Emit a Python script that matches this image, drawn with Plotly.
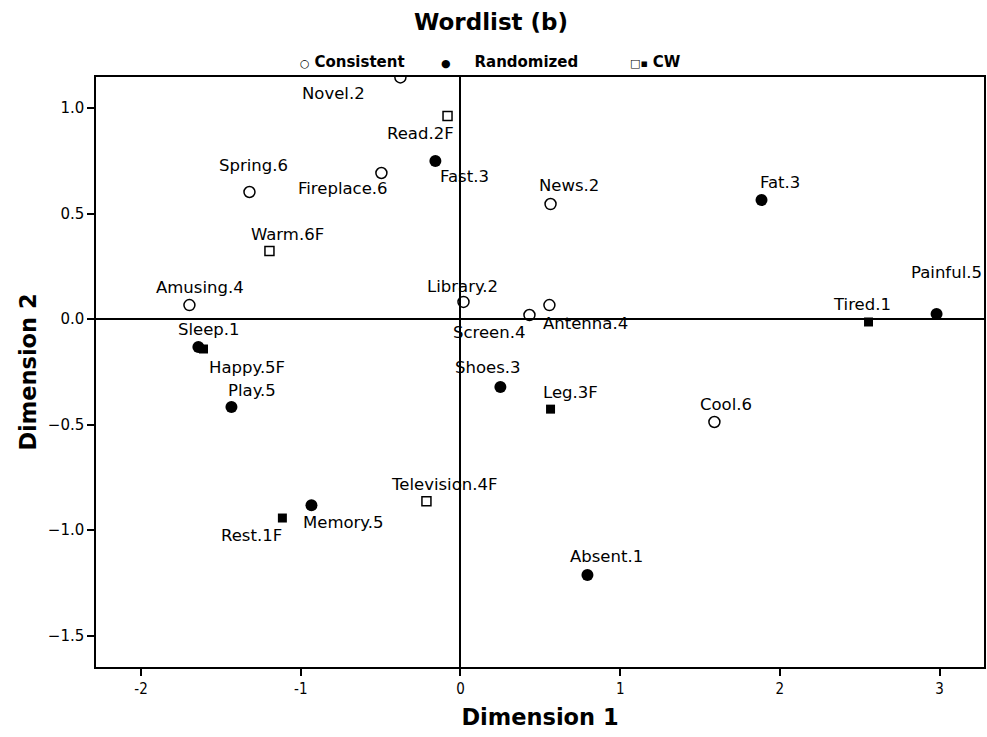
import plotly.graph_objects as go

# ---- data ----
cons_labels = ["Novel.2", "Spring.6", "Fireplace.6", "News.2", "Amusing.4",
               "Library.2", "Screen.4", "Antenna.4", "Cool.6"]
cons_x = [-0.376, -1.321, -0.495, 0.564, -1.697, 0.019, 0.432, 0.557, 1.590]
cons_y = [1.145, 0.602, 0.692, 0.545, 0.066, 0.081, 0.019, 0.066, -0.488]

rand_labels = ["Fast.3", "Fat.3", "Painful.5", "Sleep.1", "Play.5",
               "Shoes.3", "Memory.5", "Absent.1"]
rand_x = [-0.157, 1.885, 2.981, -1.641, -1.434, 0.250, -0.933, 0.795]
rand_y = [0.749, 0.564, 0.024, -0.133, -0.417, -0.322, -0.882, -1.213]

cw_open_labels = ["Read.2F", "Warm.6F", "Television.4F"]
cw_open_x = [-0.081, -1.196, -0.213]
cw_open_y = [0.962, 0.322, -0.863]

cw_fill_labels = ["Happy.5F", "Leg.3F", "Rest.1F", "Tired.1"]
cw_fill_x = [-1.609, 0.564, -1.115, 2.555]
cw_fill_y = [-0.142, -0.427, -0.943, -0.014]

legend_names = ["Consistent", "Randomized", "CW"]

# label offsets in pixels (style only)
label_shift = {
    "Novel.2": (-67, -16), "Spring.6": (4, 27), "Fireplace.6": (-38, -15),
    "News.2": (18, 19), "Amusing.4": (11, 18), "Library.2": (-1, 15),
    "Screen.4": (-40, -17), "Antenna.4": (36, -18), "Cool.6": (12, 18),
    "Fast.3": (29, -16), "Fat.3": (18, 18), "Painful.5": (10, 41),
    "Sleep.1": (11, 18), "Play.5": (21, 17), "Shoes.3": (-12, 19),
    "Memory.5": (32, -17), "Absent.1": (19, 19),
    "Read.2F": (-27, -17), "Warm.6F": (18, 17), "Television.4F": (18, 17),
    "Happy.5F": (44, -18), "Leg.3F": (20, 17), "Rest.1F": (-31, -17),
    "Tired.1": (-7, 17),
}

FONT = "DejaVu Sans"

fig = go.Figure()
fig.add_trace(go.Scatter(x=cons_x, y=cons_y, mode="markers", name=legend_names[0],
                         marker=dict(symbol="circle-open", size=11, color="black",
                                     line=dict(width=1.5, color="black"))))
fig.add_trace(go.Scatter(x=rand_x, y=rand_y, mode="markers", name=legend_names[1],
                         marker=dict(symbol="circle", size=12, color="black")))
fig.add_trace(go.Scatter(x=cw_open_x, y=cw_open_y, mode="markers", name=legend_names[2],
                         marker=dict(symbol="square-open", size=9, color="black",
                                     line=dict(width=1.5, color="black"))))
fig.add_trace(go.Scatter(x=cw_fill_x, y=cw_fill_y, mode="markers", name=legend_names[2],
                         marker=dict(symbol="square", size=9, color="black")))

annotations = []
for labs, xs, ys in [(cons_labels, cons_x, cons_y), (rand_labels, rand_x, rand_y),
                     (cw_open_labels, cw_open_x, cw_open_y),
                     (cw_fill_labels, cw_fill_x, cw_fill_y)]:
    for l, x, y in zip(labs, xs, ys):
        dx, dy = label_shift[l]
        annotations.append(dict(x=x, y=y, text=l, showarrow=False,
                                xshift=dx, yshift=dy,
                                font=dict(family=FONT, size=16.5, color="black")))

# legend as text
sym = '<span style="font-size:11px">%s</span>'
legend_items = [(sym % "○" + " <b>" + legend_names[0] + "</b>", 0.2275),
                (sym % "●" + "     <b>" + legend_names[1] + "</b>", 0.386),
                (sym % "□▪" + " <b>" + legend_names[2] + "</b>", 0.599)]
for txt, xp in legend_items:
    annotations.append(dict(xref="paper", yref="paper", x=xp, y=1.025,
                            xanchor="left", yanchor="middle", text=txt,
                            showarrow=False,
                            font=dict(family=FONT, size=15, color="black")))

fig.update_layout(
    width=987, height=737,
    margin=dict(l=96, r=3, t=77, b=70),
    plot_bgcolor="white", paper_bgcolor="white",
    showlegend=False,
    title=dict(text="<b>Wordlist (b)</b>", x=0.4975, xanchor="center",
               y=0.970, yanchor="middle",
               font=dict(family=FONT, size=23, color="black")),
    annotations=annotations,
    font=dict(family=FONT, color="black"),
)
fig.update_xaxes(range=[-2.282, 3.278], tickvals=[-2, -1, 0, 1, 2, 3],
                 ticktext=["-2", "-1", "0", "1", "2", "3"], automargin=False,
                 showgrid=False, zeroline=True, zerolinecolor="black", zerolinewidth=2,
                 showline=True, linecolor="black", linewidth=1.5, mirror=True,
                 ticks="outside", ticklen=7, tickwidth=1.5, tickcolor="black",
                 tickfont=dict(family="DejaVu Sans Condensed", size=15),
                 title=dict(text="<b>Dimension 1</b>", standoff=12,
                            font=dict(family=FONT, size=22.5)))
fig.update_yaxes(range=[-1.649, 1.147], tickvals=[-1.5, -1.0, -0.5, 0.0, 0.5, 1.0],
                 tickformat=".1f", automargin=False,
                 showgrid=False, zeroline=True, zerolinecolor="black", zerolinewidth=2,
                 showline=True, linecolor="black", linewidth=1.5, mirror=True,
                 ticks="outside", ticklen=7, tickwidth=1.5, tickcolor="black",
                 tickfont=dict(family=FONT, size=15),
                 title=dict(text="<b>Dimension 2</b>", standoff=5,
                            font=dict(family=FONT, size=22.5)))

fig.write_html("out.html", config={"displayModeBar": False},
               post_script="document.body.style.margin='0';")
